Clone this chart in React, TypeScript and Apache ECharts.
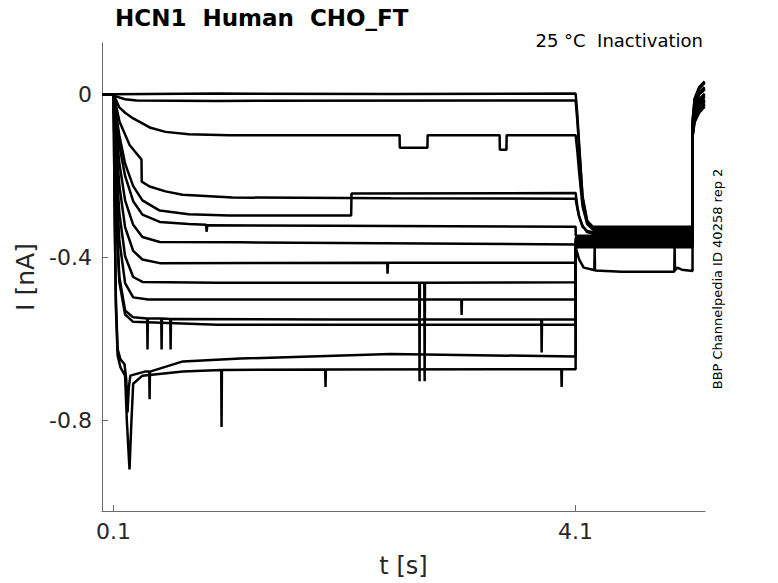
import React, { useEffect, useRef } from "react";
import * as echarts from "echarts";

// ---- data (t [s], I [nA]) ----
const xTicks = [0.1, 4.1];
const yTicks = [-0.8, -0.4, 0];

const trace01 = [[0,0],[0.1,0],[1.0,0.002],[2.5,0.001],[4.1,0.002],[4.115,-0.05],[4.13,-0.12],[4.16,-0.25],[4.2,-0.31],[4.25,-0.325],[5.112,-0.325],[5.114,-0.06],[5.13,-0.01],[5.17,0.018],[5.217,0.032]];
const trace02 = [[0,0],[0.1,0],[0.12,-0.005],[0.2,-0.012],[0.3,-0.015],[1.0,-0.016],[4.1,-0.015],[4.115,-0.065],[4.13,-0.13],[4.16,-0.255],[4.2,-0.312],[4.25,-0.328],[5.112,-0.328],[5.114,-0.062],[5.13,-0.013],[5.17,0.014],[5.217,0.028]];
const trace03 = [[0,0],[0.1,0],[0.15,-0.032],[0.2,-0.045],[0.27,-0.059],[0.35,-0.071],[0.42,-0.082],[0.55,-0.092],[0.75,-0.098],[1.1,-0.1],[2.576,-0.1],[2.578,-0.131],[2.817,-0.131],[2.819,-0.1],[3.442,-0.1],[3.444,-0.136],[3.501,-0.136],[3.503,-0.1],[4.1,-0.1],[4.115,-0.14],[4.13,-0.19],[4.16,-0.275],[4.2,-0.318],[4.25,-0.332],[5.112,-0.332],[5.114,-0.07],[5.13,-0.025],[5.17,0.005],[5.217,0.018]];
const trace04 = [[0,0],[0.1,0],[0.152,-0.067],[0.239,-0.124],[0.308,-0.148],[0.342,-0.16],[0.344,-0.214],[0.412,-0.226],[0.55,-0.238],[0.697,-0.246],[1.13,-0.253],[2.5,-0.255],[4.1,-0.256],[4.115,-0.28],[4.13,-0.3],[4.16,-0.325],[4.2,-0.335],[4.25,-0.338],[5.112,-0.338],[5.114,-0.072],[5.13,-0.028],[5.17,0.002],[5.217,0.015]];
const trace05 = [[0,0],[0.1,0],[0.12,-0.045],[0.15,-0.1],[0.2,-0.17],[0.27,-0.225],[0.35,-0.26],[0.5,-0.285],[0.75,-0.294],[1.1,-0.297],[2.157,-0.297],[2.16,-0.243],[4.1,-0.242],[4.115,-0.275],[4.13,-0.298],[4.16,-0.322],[4.2,-0.338],[4.25,-0.342],[5.112,-0.342],[5.114,-0.075],[5.13,-0.03],[5.17,0.0],[5.217,0.012]];
const trace06 = [[0,0],[0.1,0],[0.12,-0.058],[0.15,-0.125],[0.2,-0.2],[0.27,-0.262],[0.35,-0.295],[0.5,-0.313],[0.75,-0.318],[0.902,-0.32],[0.905,-0.337],[0.912,-0.321],[2.0,-0.322],[4.1,-0.325],[4.101,-0.347],[5.112,-0.347],[5.114,-0.08],[5.13,-0.04],[5.17,-0.012],[5.217,0.002]];
const trace07 = [[0,0],[0.1,0],[0.12,-0.08],[0.15,-0.168],[0.2,-0.26],[0.27,-0.32],[0.35,-0.35],[0.5,-0.362],[1.2,-0.363],[4.1,-0.368],[4.101,-0.352],[5.112,-0.352],[5.114,-0.082],[5.13,-0.043],[5.17,-0.016],[5.217,-0.002]];
const trace08 = [[0,0],[0.1,0],[0.12,-0.107],[0.15,-0.223],[0.2,-0.326],[0.27,-0.384],[0.35,-0.405],[0.5,-0.414],[2.469,-0.413],[2.472,-0.44],[2.476,-0.413],[4.1,-0.413],[4.101,-0.357],[5.112,-0.357],[5.114,-0.085],[5.13,-0.046],[5.17,-0.02],[5.217,-0.006]];
const trace09 = [[0,0],[0.1,0],[0.12,-0.152],[0.15,-0.291],[0.2,-0.397],[0.27,-0.448],[0.35,-0.46],[1.0,-0.462],[2.746,-0.462],[2.749,-0.704],[2.752,-0.462],[2.79,-0.462],[2.793,-0.704],[2.796,-0.462],[4.1,-0.461],[4.101,-0.36],[5.112,-0.36],[5.114,-0.09],[5.13,-0.05],[5.17,-0.025],[5.217,-0.012]];
const trace10 = [[0,0],[0.1,0],[0.12,-0.196],[0.15,-0.357],[0.2,-0.463],[0.27,-0.498],[0.4,-0.503],[3.11,-0.503],[3.113,-0.541],[3.116,-0.503],[4.1,-0.503],[4.101,-0.365],[5.112,-0.365],[5.114,-0.092],[5.13,-0.053],[5.17,-0.028],[5.217,-0.015]];
const trace11 = [[0,0],[0.1,0],[0.11,-0.155],[0.12,-0.27],[0.15,-0.447],[0.2,-0.53],[0.27,-0.547],[0.391,-0.55],[0.394,-0.626],[0.397,-0.55],[0.513,-0.55],[0.516,-0.626],[0.519,-0.55],[0.591,-0.551],[0.594,-0.626],[0.597,-0.551],[2.0,-0.552],[3.803,-0.552],[3.806,-0.633],[3.809,-0.552],[4.1,-0.552],[4.101,-0.368],[5.112,-0.368],[5.114,-0.095],[5.13,-0.056],[5.17,-0.03],[5.217,-0.018]];
const trace12 = [[0,0],[0.1,0],[0.11,-0.165],[0.12,-0.285],[0.15,-0.46],[0.2,-0.54],[0.27,-0.558],[1.0,-0.565],[4.1,-0.565],[4.101,-0.372],[5.112,-0.372],[5.114,-0.1],[5.13,-0.065],[5.17,-0.04],[5.217,-0.025]];
const trace13 = [[0,0],[0.1,0],[0.11,-0.3],[0.12,-0.5],[0.135,-0.625],[0.16,-0.65],[0.195,-0.662],[0.21,-0.7],[0.221,-0.78],[0.232,-0.72],[0.245,-0.69],[0.37,-0.68],[0.409,-0.68],[0.412,-0.748],[0.415,-0.68],[0.7,-0.655],[1.2,-0.648],[2.5,-0.637],[4.1,-0.643],[4.101,-0.375],[5.112,-0.375],[5.114,-0.098],[5.13,-0.06],[5.17,-0.035],[5.217,-0.022]];
const trace14 = [[0,0],[0.1,0],[0.11,-0.3],[0.12,-0.52],[0.135,-0.64],[0.16,-0.67],[0.2,-0.69],[0.215,-0.8],[0.238,-0.92],[0.255,-0.8],[0.27,-0.71],[0.35,-0.69],[0.7,-0.68],[1.032,-0.676],[1.035,-0.816],[1.038,-0.676],[1.932,-0.675],[1.935,-0.718],[1.938,-0.675],[3.976,-0.674],[3.979,-0.718],[3.982,-0.674],[4.1,-0.674],[4.101,-0.375],[4.13,-0.405],[4.17,-0.425],[4.25,-0.43],[4.262,-0.432],[4.265,-0.375],[4.268,-0.432],[4.5,-0.435],[4.954,-0.435],[4.957,-0.375],[4.96,-0.432],[4.98,-0.425],[5.02,-0.43],[5.112,-0.433],[5.114,-0.1],[5.13,-0.068],[5.17,-0.045],[5.217,-0.03]];

const traces = [trace01, trace02, trace03, trace04, trace05, trace06, trace07, trace08, trace09, trace10, trace11, trace12, trace13, trace14];

const FONT = '"DejaVu Sans", "Noto Sans", sans-serif';

export default function App() {
  const ref = useRef<HTMLDivElement>(null);
  useEffect(() => {
    if (!ref.current) return;
    const chart = echarts.init(ref.current, undefined, { renderer: "svg" });
    chart.setOption({
      animation: false,
      backgroundColor: "#ffffff",
      grid: { left: 102, right: 73, top: 43, bottom: 71 },
      xAxis: {
        type: "value",
        min: 0,
        max: 5.22,
        name: "t [s]",
        nameLocation: "middle",
        nameGap: 43,
        nameTextStyle: { fontSize: 24, color: "#262626", fontFamily: FONT },
        axisLine: { show: true, onZero: false, lineStyle: { color: "#6b6b6b", width: 1 } },
        axisTick: { show: true, inside: true, length: 6, customValues: xTicks, lineStyle: { color: "#6b6b6b" } },
        axisLabel: { customValues: xTicks, fontSize: 22, color: "#262626", fontFamily: FONT, margin: 9 },
        splitLine: { show: false },
      },
      yAxis: {
        type: "value",
        min: -1.022,
        max: 0.126,
        name: "I [nA]",
        nameLocation: "middle",
        nameRotate: 90,
        nameGap: 60,
        nameTextStyle: { fontSize: 25, color: "#262626", fontFamily: FONT },
        axisLine: { show: true, onZero: false, lineStyle: { color: "#6b6b6b", width: 1 } },
        axisTick: { show: true, inside: true, length: 6, customValues: yTicks, lineStyle: { color: "#6b6b6b" } },
        axisLabel: {
          customValues: yTicks,
          fontSize: 22,
          color: "#262626",
          fontFamily: FONT,
          margin: 10,
          formatter: (v: number) => (v === 0 ? "0" : String(v)),
        },
        splitLine: { show: false },
      },
      graphic: [
        {
          type: "text",
          x: 115,
          y: 18,
          style: {
            text: "HCN1  Human  CHO_FT",
            fill: "#000",
            fontSize: 23,
            fontWeight: "bold",
            fontFamily: FONT,
            align: "left",
            verticalAlign: "middle",
            textAlign: "left",
            textVerticalAlign: "middle",
          },
        },
        {
          type: "text",
          x: 703,
          y: 40,
          style: {
            text: "25 °C  Inactivation",
            fill: "#000",
            fontSize: 18,
            fontFamily: FONT,
            align: "right",
            verticalAlign: "middle",
            textAlign: "right",
            textVerticalAlign: "middle",
          },
        },
        {
          type: "text",
          x: 717,
          y: 279,
          rotation: Math.PI / 2,
          style: {
            text: "BBP Channelpedia ID 40258 rep 2",
            fill: "#000",
            fontSize: 13,
            fontFamily: FONT,
            align: "center",
            verticalAlign: "middle",
            textAlign: "center",
            textVerticalAlign: "middle",
          },
        },
      ],
      series: traces.map((d, i) => ({
        name: "trace" + (i + 1),
        type: "line",
        data: d,
        showSymbol: false,
        symbol: "none",
        silent: true,
        clip: true,
        lineStyle: { color: "#000000", width: 2.5 },
      })),
    });
    return () => chart.dispose();
  }, []);
  return (
    <div
      ref={ref}
      style={{ position: "absolute", left: 0, top: 0, width: 778, height: 583, background: "#fff" }}
    />
  );
}
